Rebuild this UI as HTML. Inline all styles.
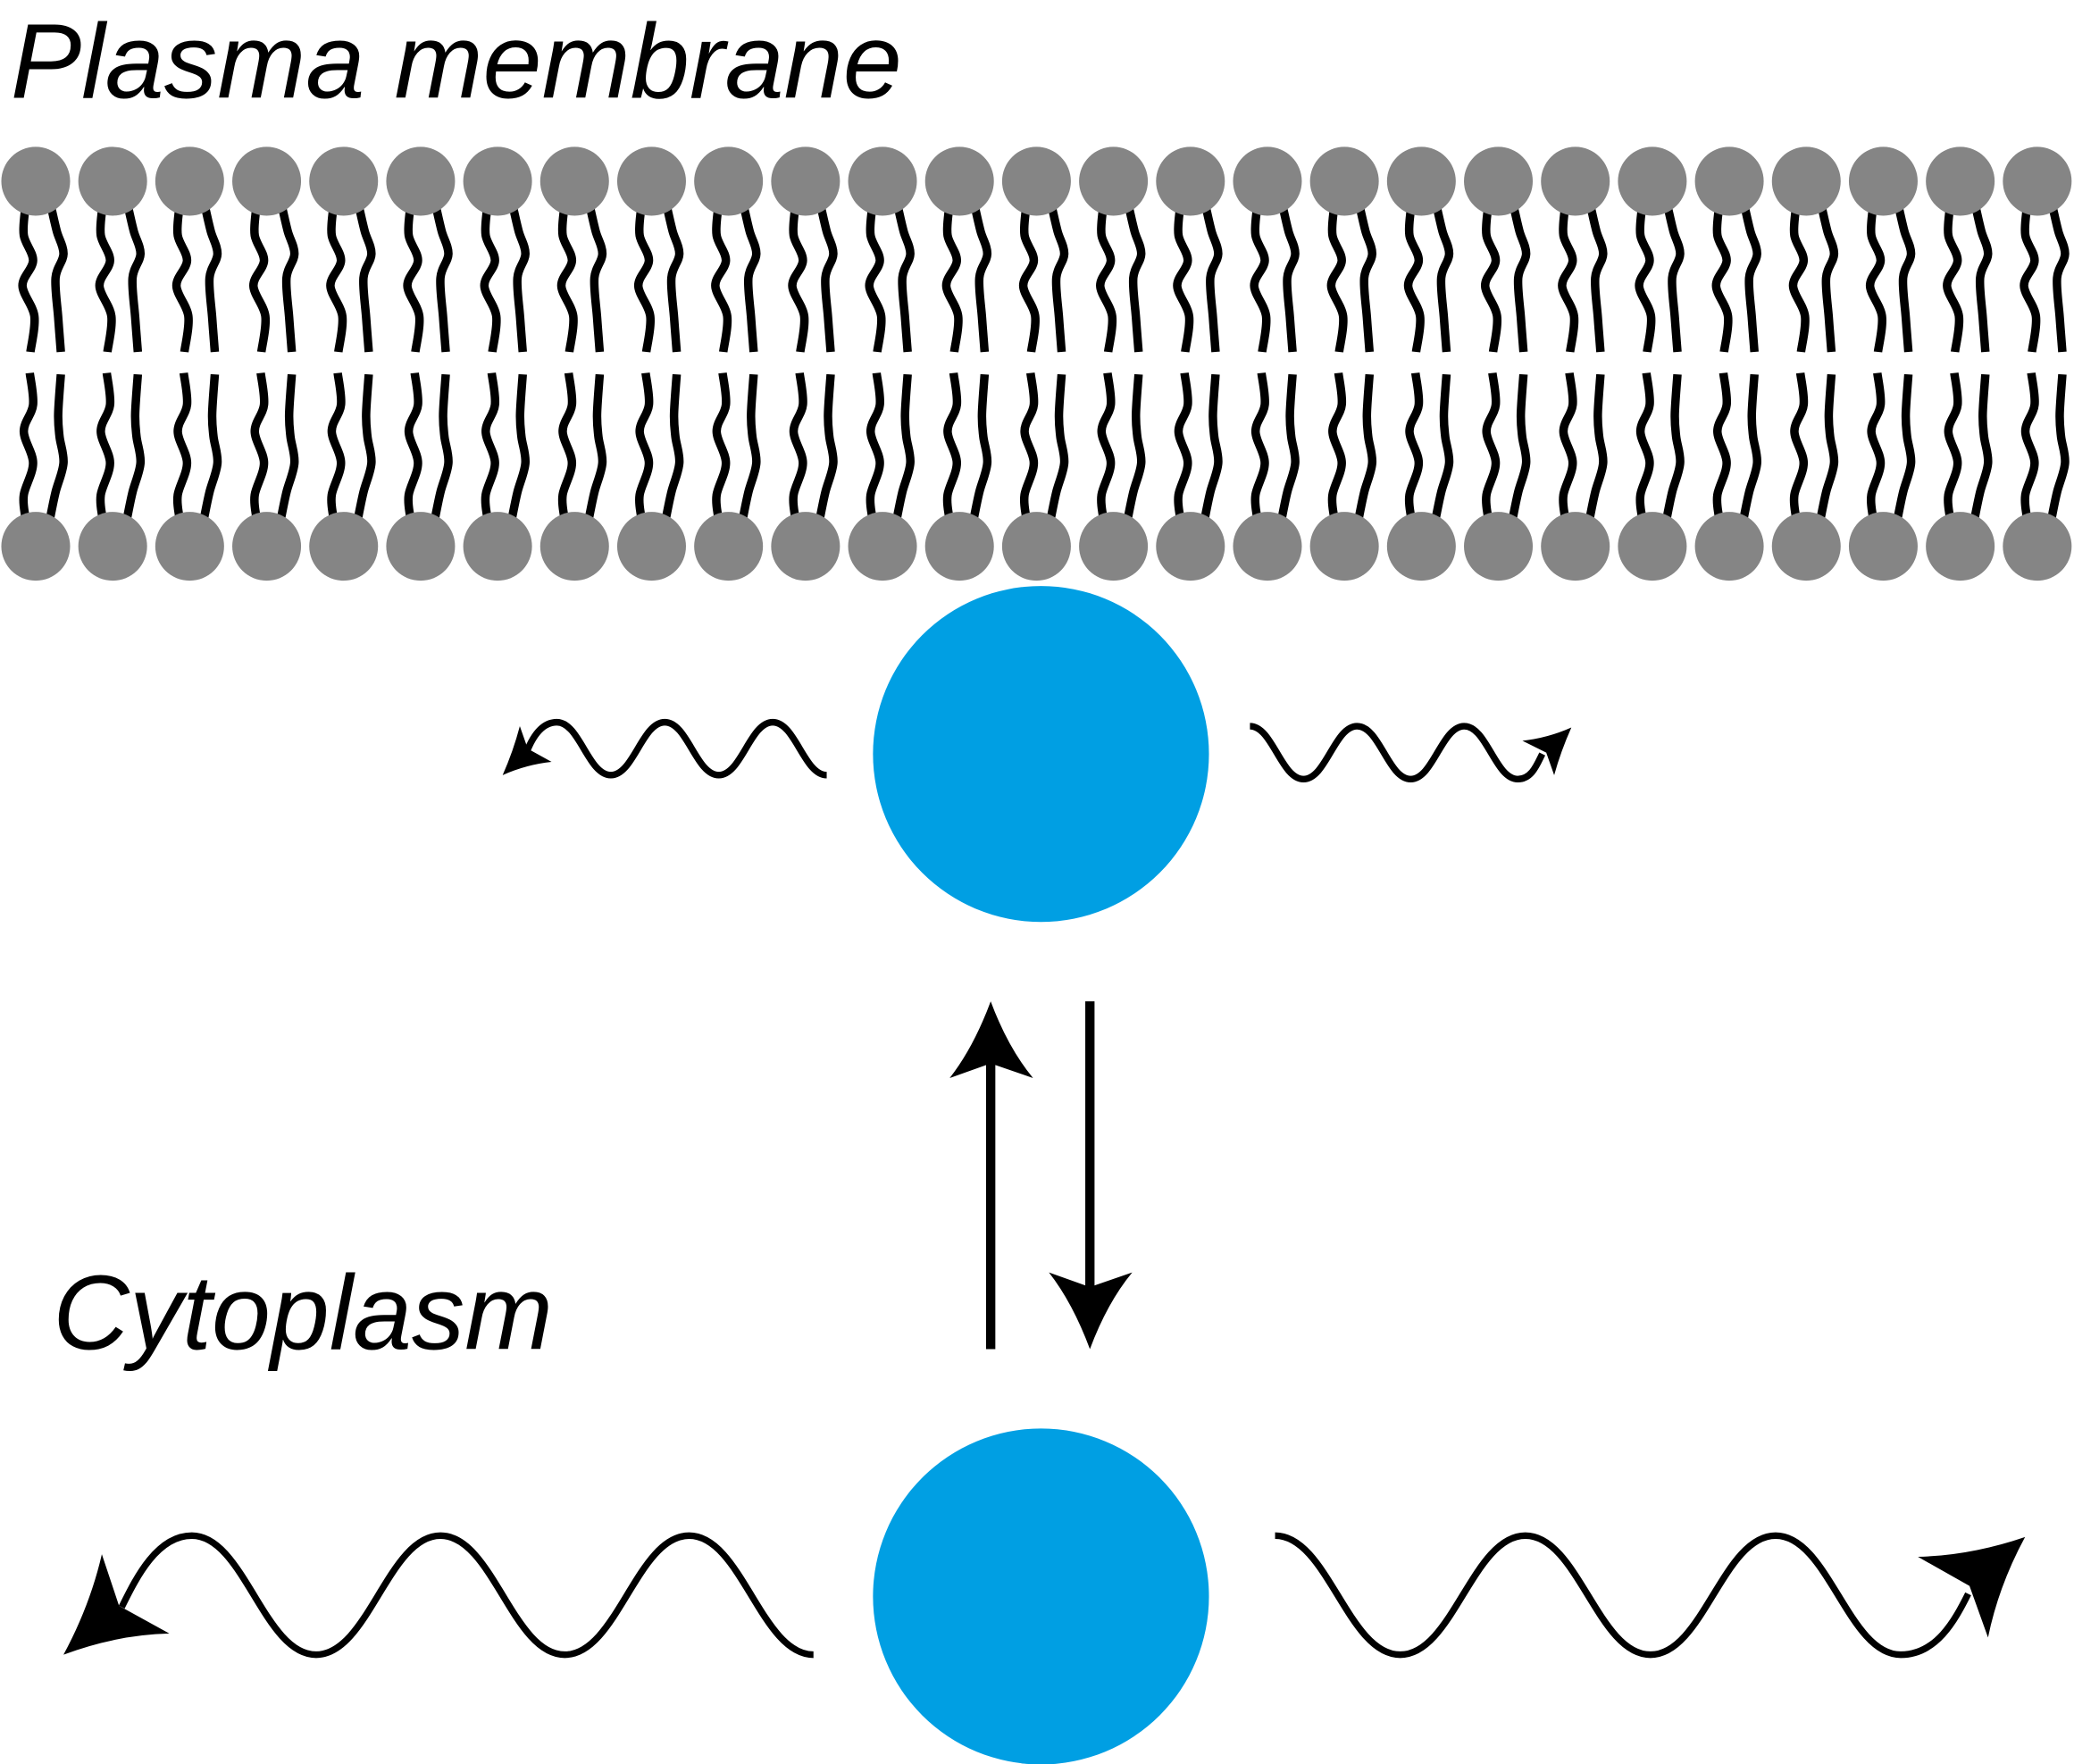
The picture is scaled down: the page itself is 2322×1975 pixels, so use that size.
<!DOCTYPE html>
<html><head><meta charset="utf-8"><style>
html,body{margin:0;padding:0;background:#fff;}
svg{display:block;}
</style></head><body>
<svg id="fig" width="2322" height="1975" viewBox="0 0 1568 1333.6" xmlns="http://www.w3.org/2000/svg">
<rect width="1568" height="1333.6" fill="#fff"/>
<text x="8" y="74" font-family="'Liberation Sans', sans-serif" font-style="italic" font-size="80" textLength="674" lengthAdjust="spacingAndGlyphs">Plasma membrane</text>
<text x="40" y="1020" font-family="'Liberation Sans', sans-serif" font-style="italic" font-size="80" textLength="378" lengthAdjust="spacingAndGlyphs">Cytoplasm</text>
<g id="bilayer"></g>
<circle cx="787" cy="570" r="127" fill="#009fe3"/>
<circle cx="787" cy="1207" r="127" fill="#009fe3"/>
<g id="arrows" fill="none" stroke="#000"></g>
<g>
 <line x1="749" y1="1020" x2="749" y2="800" stroke="#000" stroke-width="7"/>
 <path d="M749 757 Q762 792 781 815 L749 804 L718 815 Q736 792 749 757Z" fill="#000"/>
 <line x1="824" y1="757" x2="824" y2="975" stroke="#000" stroke-width="7"/>
 <path d="M824 1020 Q837 985 856 962 L824 973 L793 962 Q811 985 824 1020Z" fill="#000"/>
</g>
</svg>
<script>
const NS='http://www.w3.org/2000/svg';
const bil=document.getElementById('bilayer');
const headCount=27, headStart=27, headStep=58.2;
function mk(tag,attrs,parent){const e=document.createElementNS(NS,tag);for(const k in attrs)e.setAttribute(k,attrs[k]);parent.appendChild(e);return e;}
function smooth(dx,pts){
  const q=pts.map(p=>[p[0]+dx,p[1]]);
  let d='M'+q[0][0]+' '+q[0][1];
  for(let i=0;i<q.length-1;i++){
    const p0=q[Math.max(0,i-1)],p1=q[i],p2=q[i+1],p3=q[Math.min(q.length-1,i+2)];
    const c1=[p1[0]+(p2[0]-p0[0])/6,p1[1]+(p2[1]-p0[1])/6];
    const c2=[p2[0]-(p3[0]-p1[0])/6,p2[1]-(p3[1]-p1[1])/6];
    d+=' C'+c1[0]+' '+c1[1]+' '+c2[0]+' '+c2[1]+' '+p2[0]+' '+p2[1];
  }
  return d;
}
const ul=[[-8,158],[-9,178],[-2,197],[-10,216],[-1,239],[-4,266]];
const ur=[[12,158],[16,175],[21,192],[15,210],[17,240],[19,266]];
const ll=[[-4.5,282],[-2,306],[-9,326],[-2,350],[-9,374],[-8,390]];
const lr=[[19,283],[17,313],[18,330],[21,350],[15,372],[11,391]];
for(let i=0;i<headCount;i++){
  const cx=headStart+i*headStep;
  const g=mk('g',{},bil);
  
  
  [ul,ur,ll,lr].forEach(t=>{
    const p=mk('path',{d:smooth(cx,t),fill:'none',stroke:'#000','stroke-width':6.4},g);
    
    
  });
  const h1=mk('circle',{cx:cx,cy:137,r:26,fill:'#858585'},g);
  
  
  const h2=mk('circle',{cx:cx,cy:413,r:26,fill:'#858585'},g);
  
  
}
const arr=document.getElementById('arrows');
function wave(x,y,h,amp,n,endSeg){
  let d='M'+x+' '+y;let cy=y;
  for(let i=0;i<n;i++){const ny=cy===y?y+amp:y;d+=' C'+(x+h*0.42)+' '+cy+' '+(x+h*0.58)+' '+ny+' '+(x+h)+' '+ny;x+=h;cy=ny;}
  return d+' '+endSeg;
}
function addWave(name,d,sw,head){
  const p=mk('path',{d:d,'stroke-width':sw},arr);
  
  
  const a=mk('path',{d:head,fill:'#000',stroke:'none'},arr);
  
  
}
addWave('upper-left-wave',wave(625,586,-40.8,-40,5,'C410 546 403 556 398 569'),5,
 'M380 586 Q388 568 393 549 L399 566 L417 576 Q398 578 380 586Z');
addWave('upper-right-wave',wave(945,549,40.5,40,5,'C1158 589 1162 578 1166 570'),5,
 'M1188 550 Q1180 568 1175 586 L1169 569 L1151 560 Q1170 558 1188 550Z');
addWave('lower-left-wave',wave(615,1251,-94,-90,5,'C118 1161 102 1195 92 1215'),5,
 'M48 1251 Q68 1214 77 1175 L90 1214 L128 1235 Q88 1236 48 1251Z');
addWave('lower-right-wave',wave(964,1161,94.6,90,5,'C1464 1251 1478 1225 1488 1205'),5,
 'M1531 1162 Q1511 1199 1503 1238 L1489 1199 L1450 1177 Q1490 1176 1531 1162Z');
</script>
</body></html>
